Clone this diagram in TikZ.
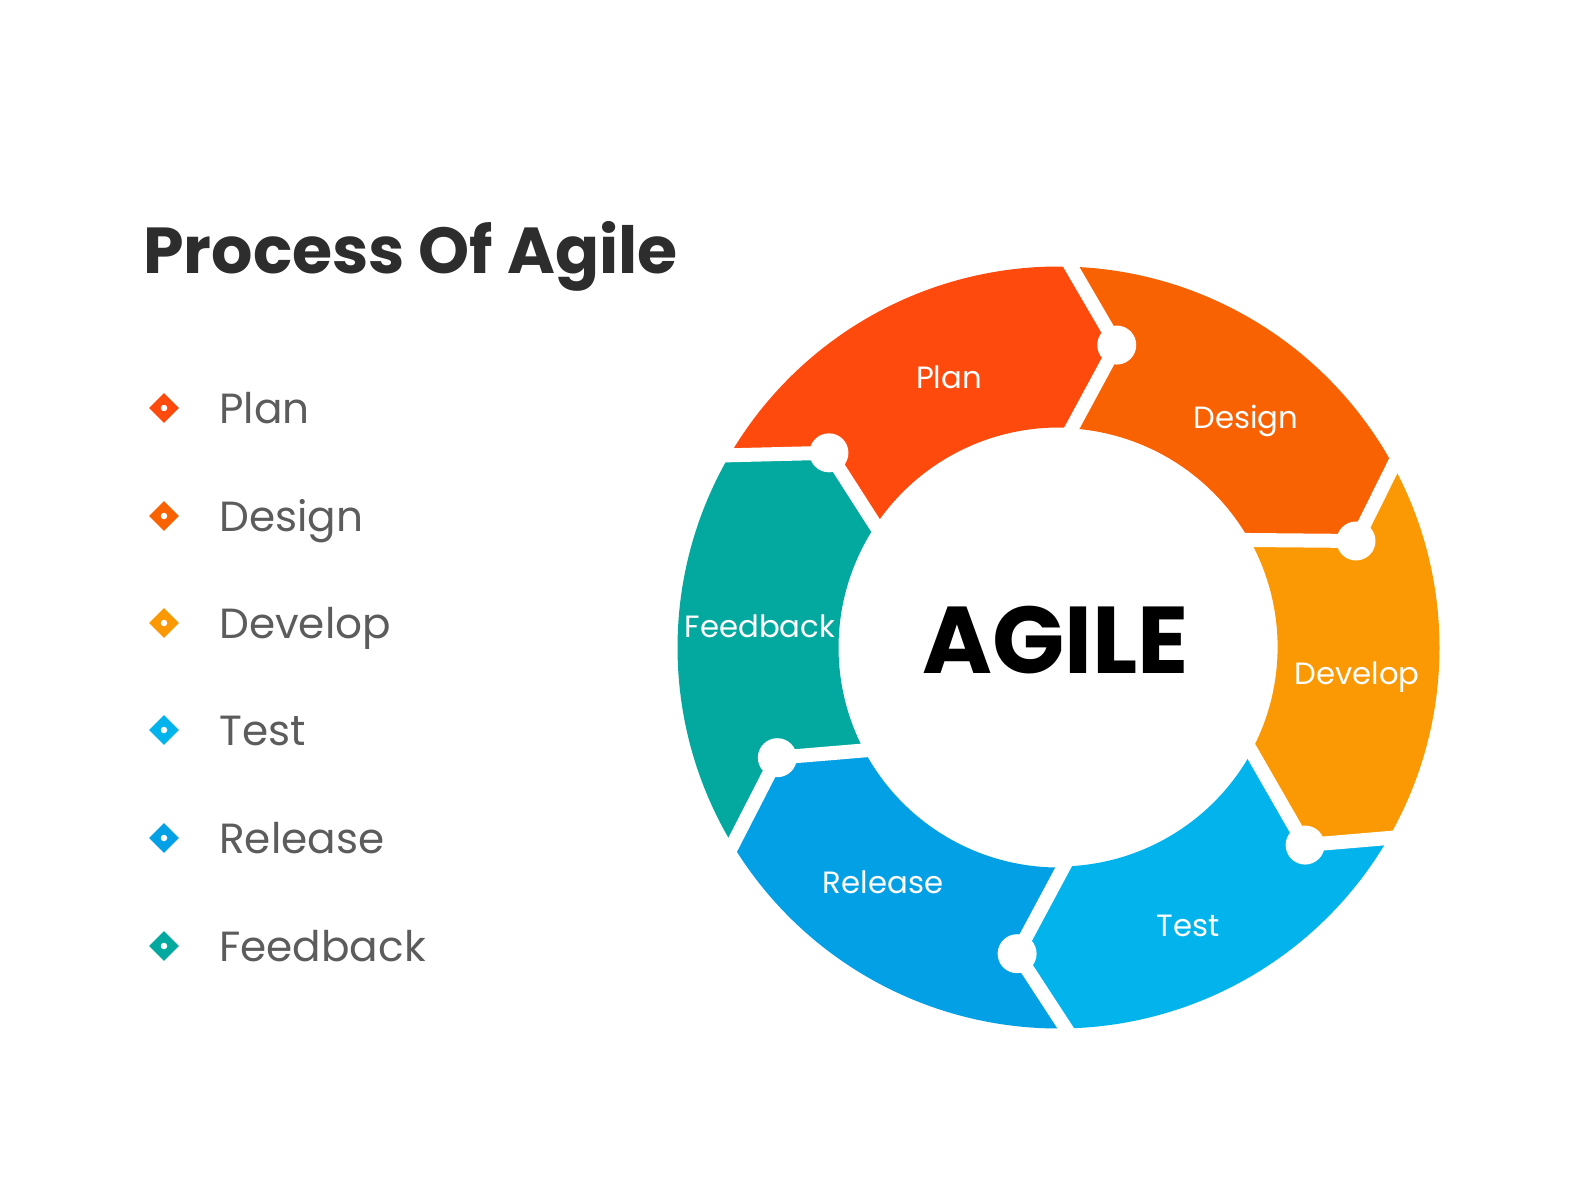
\documentclass[tikz,border=0pt]{standalone}
\usepackage{fontspec}
\setmainfont{Poppins}
\newfontfamily\agilefont{Poppins}
\usetikzlibrary{shapes.geometric}

\definecolor{planc}{HTML}{FF4A0E}
\definecolor{designc}{HTML}{F86203}
\definecolor{developc}{HTML}{FB9904}
\definecolor{testc}{HTML}{03B4EC}
\definecolor{releasec}{HTML}{04A0E5}
\definecolor{feedbackc}{HTML}{03A89E}
\definecolor{titlec}{HTML}{2D2D2D}
\definecolor{itemc}{HTML}{5C5C5C}

\tikzset{
    knob/.style={circle, fill=white, inner sep=0pt, minimum size=0.78cm},
    gap/.style={draw=white, line width=0.28cm, shorten >=-0.2cm, shorten <=-0.2cm},
    seglabel/.style={text=white, font=\fontsize{17.5}{21}\selectfont, anchor=base, inner sep=0pt},
    marker/.style={diamond, fill=#1, inner sep=0pt, minimum size=0.6cm,
        path picture={\fill[white] (path picture bounding box.center) circle[radius=0.065cm];}},
    item/.style={text=itemc, font=\fontsize{24}{29}\selectfont, anchor=base west, inner sep=0pt}
}

\begin{document}
\begin{tikzpicture}[x=0.02cm, y=0.02cm]
    \fill[white] (0,0) rectangle (1584,1188);
    \useasboundingbox (0,0) rectangle (1584,1188);

    % Tiêu đề và danh sách
    \node [anchor=base west, inner sep=0pt, text=titlec, font=\fontsize{37}{44}\selectfont\bfseries] (title) at (143,914) {Process Of Agile};

    \node [marker=planc] (m1) at (164,780) {};
    \node [item] (t1) at (219,765) {Plan};
    \node [marker=designc] (m2) at (164,672) {};
    \node [item] (t2) at (219,657) {Design};
    \node [marker=developc] (m3) at (164,565) {};
    \node [item] (t3) at (219,550) {Develop};
    \node [marker=testc] (m4) at (164,458) {};
    \node [item] (t4) at (219,443) {Test};
    \node [marker=releasec] (m5) at (164,350) {};
    \node [item] (t5) at (219,335) {Release};
    \node [marker=feedbackc] (m6) at (164,242) {};
    \node [item] (t6) at (219,227) {Feedback};

    % Vòng tròn sáu phần
    \begin{scope}[shift={(1058.5,540.5)}]
        \coordinate (o0) at (88.1:381);   \coordinate (k0) at (79.1:308);   \coordinate (i0) at (86.5:220);
        \coordinate (o1) at (28.5:381);   \coordinate (k1) at (19.7:316);   \coordinate (i1) at (29.4:219);
        \coordinate (o2) at (-30.0:381);  \coordinate (k2) at (-38.7:316);  \coordinate (i2) at (-28.3:219);
        \coordinate (o3) at (-88.9:381);  \coordinate (k3) at (-97.7:309);  \coordinate (i3) at (-88.6:219);
        \coordinate (o4) at (-148.8:381); \coordinate (k4) at (-158.6:302); \coordinate (i4) at (-152.1:220);
        \coordinate (o5) at (149.7:381);  \coordinate (k5) at (139.7:301);  \coordinate (i5) at (146.3:220);

        \fill[planc] (o5) arc[start angle=149.7, end angle=88.1, radius=381] -- (k0) -- (i0)
            arc[start angle=86.5, end angle=146.3, radius=220] -- (k5) -- cycle;
        \fill[designc] (o0) arc[start angle=88.1, end angle=28.5, radius=381] -- (k1) -- (i1)
            arc[start angle=29.4, end angle=86.5, radius=220] -- (k0) -- cycle;
        \fill[developc] (o1) arc[start angle=28.5, end angle=-30, radius=381] -- (k2) -- (i2)
            arc[start angle=-28.3, end angle=29.4, radius=220] -- (k1) -- cycle;
        \fill[testc] (o2) arc[start angle=-30, end angle=-88.9, radius=381] -- (k3) -- (i3)
            arc[start angle=-88.6, end angle=-28.3, radius=220] -- (k2) -- cycle;
        \fill[releasec] (o3) arc[start angle=-88.9, end angle=-148.8, radius=381] -- (k4) -- (i4)
            arc[start angle=-152.1, end angle=-88.6, radius=220] -- (k3) -- cycle;
        \fill[feedbackc] (o4) arc[start angle=-148.8, end angle=-210.3, radius=381] -- (k5) -- (i5)
            arc[start angle=146.3, end angle=207.9, radius=220] -- (k4) -- cycle;

        % Khe trắng và các nút
        \draw[gap] (o0) -- (k0) -- (i0);
        \draw[gap] (o1) -- (k1) -- (i1);
        \draw[gap] (o2) -- (k2) -- (i2);
        \draw[gap] (o3) -- (k3) -- (i3);
        \draw[gap] (o4) -- (k4) -- (i4);
        \draw[gap] (o5) -- (k5) -- (i5);
        \node [knob] (n0) at (k0) {};
        \node [knob] (n1) at (k1) {};
        \node [knob] (n2) at (k2) {};
        \node [knob] (n3) at (k3) {};
        \node [knob] (n4) at (k4) {};
        \node [knob] (n5) at (k5) {};
    \end{scope}

    % Nhãn
    \node [seglabel] (lplan) at (949,799) {Plan};
    \node [seglabel] (ldesign) at (1246,760) {Design};
    \node [seglabel] (ldevelop) at (1357,504) {Develop};
    \node [seglabel] (ltest) at (1188,252) {Test};
    \node [seglabel] (lrelease) at (883,295) {Release};
    \node [seglabel] (lfeedback) at (760,551) {Feedback};

    \node [anchor=base, inner sep=0pt, font=\agilefont\bfseries\fontsize{54}{60}\selectfont] (agile) at (1055.5,515) {AGILE};
\end{tikzpicture}
\end{document}
